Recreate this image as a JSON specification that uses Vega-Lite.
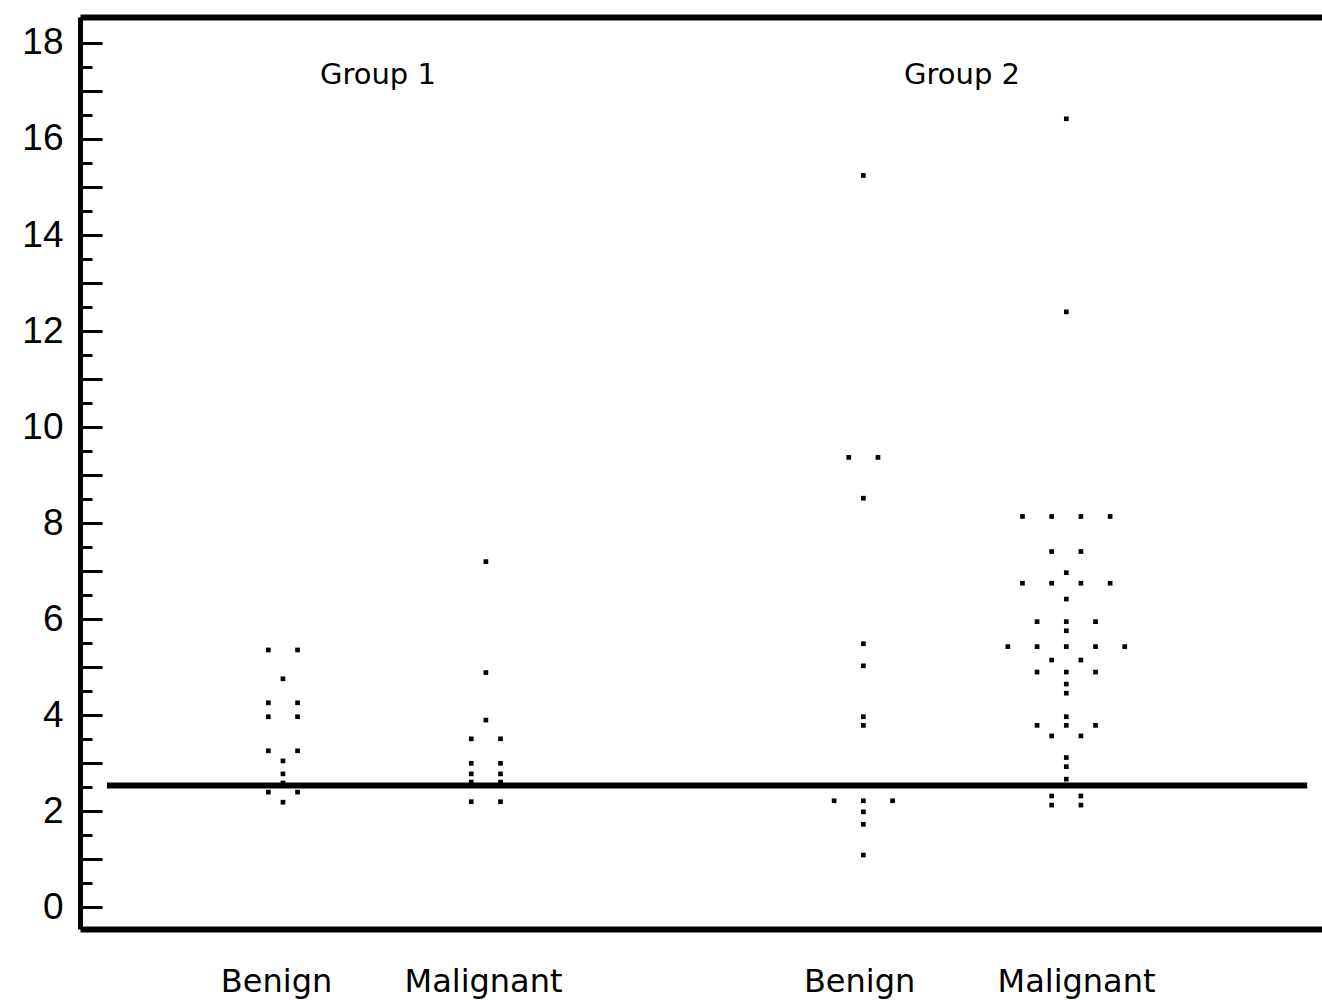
{
  "$schema": "https://vega.github.io/schema/vega-lite/v6.json",
  "width": 1242,
  "height": 912,
  "autosize": "none",
  "padding": {"left": 80, "top": 17, "right": 0, "bottom": 71},
  "background": "white",
  "config": {"view": {"stroke": null}},
  "datasets": {
    "dots": [
      {"group": "Group 1", "type": "Benign", "col": -1, "value": 5.36},
      {"group": "Group 1", "type": "Benign", "col": 1, "value": 5.36},
      {"group": "Group 1", "type": "Benign", "col": 0, "value": 4.76},
      {"group": "Group 1", "type": "Benign", "col": -1, "value": 4.26},
      {"group": "Group 1", "type": "Benign", "col": 1, "value": 4.26},
      {"group": "Group 1", "type": "Benign", "col": -1, "value": 3.97},
      {"group": "Group 1", "type": "Benign", "col": 1, "value": 3.97},
      {"group": "Group 1", "type": "Benign", "col": -1, "value": 3.26},
      {"group": "Group 1", "type": "Benign", "col": 1, "value": 3.26},
      {"group": "Group 1", "type": "Benign", "col": 0, "value": 3.05},
      {"group": "Group 1", "type": "Benign", "col": 0, "value": 2.78},
      {"group": "Group 1", "type": "Benign", "col": 0, "value": 2.59},
      {"group": "Group 1", "type": "Benign", "col": -1, "value": 2.4},
      {"group": "Group 1", "type": "Benign", "col": 1, "value": 2.4},
      {"group": "Group 1", "type": "Benign", "col": 0, "value": 2.19},

      {"group": "Group 1", "type": "Malignant", "col": 0, "value": 7.2},
      {"group": "Group 1", "type": "Malignant", "col": 0, "value": 4.89},
      {"group": "Group 1", "type": "Malignant", "col": 0, "value": 3.9},
      {"group": "Group 1", "type": "Malignant", "col": -1, "value": 3.51},
      {"group": "Group 1", "type": "Malignant", "col": 1, "value": 3.51},
      {"group": "Group 1", "type": "Malignant", "col": -1, "value": 3.0},
      {"group": "Group 1", "type": "Malignant", "col": 1, "value": 3.0},
      {"group": "Group 1", "type": "Malignant", "col": -1, "value": 2.78},
      {"group": "Group 1", "type": "Malignant", "col": 1, "value": 2.78},
      {"group": "Group 1", "type": "Malignant", "col": -1, "value": 2.61},
      {"group": "Group 1", "type": "Malignant", "col": 1, "value": 2.61},
      {"group": "Group 1", "type": "Malignant", "col": -1, "value": 2.2},
      {"group": "Group 1", "type": "Malignant", "col": 1, "value": 2.2},

      {"group": "Group 2", "type": "Benign", "col": 0, "value": 15.24},
      {"group": "Group 2", "type": "Benign", "col": -1, "value": 9.37},
      {"group": "Group 2", "type": "Benign", "col": 1, "value": 9.37},
      {"group": "Group 2", "type": "Benign", "col": 0, "value": 8.52},
      {"group": "Group 2", "type": "Benign", "col": 0, "value": 5.49},
      {"group": "Group 2", "type": "Benign", "col": 0, "value": 5.03},
      {"group": "Group 2", "type": "Benign", "col": 0, "value": 3.97},
      {"group": "Group 2", "type": "Benign", "col": 0, "value": 3.79},
      {"group": "Group 2", "type": "Benign", "col": -2, "value": 2.22},
      {"group": "Group 2", "type": "Benign", "col": 0, "value": 2.22},
      {"group": "Group 2", "type": "Benign", "col": 2, "value": 2.22},
      {"group": "Group 2", "type": "Benign", "col": 0, "value": 1.99},
      {"group": "Group 2", "type": "Benign", "col": 0, "value": 1.73},
      {"group": "Group 2", "type": "Benign", "col": 0, "value": 1.09},

      {"group": "Group 2", "type": "Malignant", "col": 0, "value": 16.42},
      {"group": "Group 2", "type": "Malignant", "col": 0, "value": 12.4},
      {"group": "Group 2", "type": "Malignant", "col": -3, "value": 8.14},
      {"group": "Group 2", "type": "Malignant", "col": -1, "value": 8.14},
      {"group": "Group 2", "type": "Malignant", "col": 1, "value": 8.14},
      {"group": "Group 2", "type": "Malignant", "col": 3, "value": 8.14},
      {"group": "Group 2", "type": "Malignant", "col": -1, "value": 7.41},
      {"group": "Group 2", "type": "Malignant", "col": 1, "value": 7.41},
      {"group": "Group 2", "type": "Malignant", "col": 0, "value": 6.97},
      {"group": "Group 2", "type": "Malignant", "col": -3, "value": 6.75},
      {"group": "Group 2", "type": "Malignant", "col": -1, "value": 6.75},
      {"group": "Group 2", "type": "Malignant", "col": 1, "value": 6.75},
      {"group": "Group 2", "type": "Malignant", "col": 3, "value": 6.75},
      {"group": "Group 2", "type": "Malignant", "col": 0, "value": 6.42},
      {"group": "Group 2", "type": "Malignant", "col": -2, "value": 5.95},
      {"group": "Group 2", "type": "Malignant", "col": 0, "value": 5.95},
      {"group": "Group 2", "type": "Malignant", "col": 2, "value": 5.95},
      {"group": "Group 2", "type": "Malignant", "col": 0, "value": 5.76},
      {"group": "Group 2", "type": "Malignant", "col": -4, "value": 5.43},
      {"group": "Group 2", "type": "Malignant", "col": -2, "value": 5.43},
      {"group": "Group 2", "type": "Malignant", "col": 0, "value": 5.43},
      {"group": "Group 2", "type": "Malignant", "col": 2, "value": 5.43},
      {"group": "Group 2", "type": "Malignant", "col": 4, "value": 5.43},
      {"group": "Group 2", "type": "Malignant", "col": -1, "value": 5.15},
      {"group": "Group 2", "type": "Malignant", "col": 1, "value": 5.15},
      {"group": "Group 2", "type": "Malignant", "col": -2, "value": 4.9},
      {"group": "Group 2", "type": "Malignant", "col": 0, "value": 4.9},
      {"group": "Group 2", "type": "Malignant", "col": 2, "value": 4.9},
      {"group": "Group 2", "type": "Malignant", "col": 0, "value": 4.65},
      {"group": "Group 2", "type": "Malignant", "col": 0, "value": 4.46},
      {"group": "Group 2", "type": "Malignant", "col": 0, "value": 3.97},
      {"group": "Group 2", "type": "Malignant", "col": -2, "value": 3.79},
      {"group": "Group 2", "type": "Malignant", "col": 0, "value": 3.79},
      {"group": "Group 2", "type": "Malignant", "col": 2, "value": 3.79},
      {"group": "Group 2", "type": "Malignant", "col": -1, "value": 3.57},
      {"group": "Group 2", "type": "Malignant", "col": 1, "value": 3.57},
      {"group": "Group 2", "type": "Malignant", "col": 0, "value": 3.12},
      {"group": "Group 2", "type": "Malignant", "col": 0, "value": 2.93},
      {"group": "Group 2", "type": "Malignant", "col": 0, "value": 2.67},
      {"group": "Group 2", "type": "Malignant", "col": -1, "value": 2.32},
      {"group": "Group 2", "type": "Malignant", "col": 1, "value": 2.32},
      {"group": "Group 2", "type": "Malignant", "col": -1, "value": 2.13},
      {"group": "Group 2", "type": "Malignant", "col": 1, "value": 2.13}
    ]
  },
  "resolve": {"axis": {"x": "independent", "y": "independent"}},
  "layer": [
    {
      "data": {"name": "dots"},
      "transform": [
        {"calculate": "(datum.group === 'Group 1' ? 0 : 2.86) + (datum.type === 'Benign' ? 1 : 2) + datum.col * 0.072", "as": "xpos"}
      ],
      "mark": {"type": "point", "shape": "square", "filled": true, "size": 22, "color": "black", "opacity": 1, "strokeWidth": 0},
      "encoding": {
        "x": {
          "field": "xpos", "type": "quantitative",
          "scale": {"domain": [0, 6.12], "nice": false, "zero": false},
          "axis": {
            "orient": "bottom", "values": [0.966, 1.986, 3.839, 4.908],
            "labelExpr": "datum.value < 1.5 || (datum.value > 3 && datum.value < 4.5) ? 'Benign' : 'Malignant'",
            "ticks": false, "grid": false, "title": null,
            "domain": true, "domainWidth": 6, "domainColor": "black",
            "labelFont": "DejaVu Sans", "labelFontSize": 32, "labelColor": "black",
            "labelPadding": 37, "labelFlush": false, "labelOverlap": false, "labelBound": false
          }
        },
        "y": {
          "field": "value", "type": "quantitative",
          "scale": {"domain": [-0.45, 18.54], "nice": false, "zero": false},
          "axis": {
            "orient": "left",
            "values": [0, 1, 2, 3, 4, 5, 6, 7, 8, 9, 10, 11, 12, 13, 14, 15, 16, 17, 18],
            "labelExpr": "datum.value % 2 === 0 ? datum.label : ''",
            "tickSize": -22, "tickWidth": 3, "tickColor": "black",
            "domain": true, "domainWidth": 5, "domainColor": "black",
            "grid": false, "title": null,
            "labelFont": "Liberation Sans", "labelFontSize": 37, "labelColor": "black",
            "labelPadding": 39, "labelOverlap": false, "labelBound": false, "labelFlush": false
          }
        }
      }
    },
    {
      "data": {"values": [{}]},
      "mark": {"type": "rule", "color": "black", "strokeWidth": 6},
      "encoding": {
        "x": {
          "datum": 0.133, "type": "quantitative",
          "axis": {"orient": "top", "domain": true, "domainWidth": 6, "domainColor": "black", "ticks": false, "labels": false, "grid": false, "title": null}
        },
        "x2": {"datum": 6.047},
        "y": {
          "datum": 2.54, "type": "quantitative",
          "axis": {
            "orient": "left",
            "values": [0.5, 1.5, 2.5, 3.5, 4.5, 5.5, 6.5, 7.5, 8.5, 9.5, 10.5, 11.5, 12.5, 13.5, 14.5, 15.5, 16.5, 17.5],
            "tickSize": -12, "tickWidth": 3, "tickColor": "black",
            "domain": false, "labels": false, "grid": false, "title": null
          }
        }
      }
    },
    {
      "data": {"values": [{"label": "Group 1"}]},
      "mark": {"type": "text", "font": "DejaVu Sans", "fontSize": 29, "color": "black", "align": "center", "baseline": "alphabetic"},
      "encoding": {
        "x": {"datum": 1.468, "type": "quantitative", "axis": null},
        "y": {"datum": 17.15, "type": "quantitative", "axis": null},
        "text": {"field": "label"}
      }
    },
    {
      "data": {"values": [{"label": "Group 2"}]},
      "mark": {"type": "text", "font": "DejaVu Sans", "fontSize": 29, "color": "black", "align": "center", "baseline": "alphabetic"},
      "encoding": {
        "x": {"datum": 4.346, "type": "quantitative", "axis": null},
        "y": {"datum": 17.15, "type": "quantitative", "axis": null},
        "text": {"field": "label"}
      }
    }
  ]
}
